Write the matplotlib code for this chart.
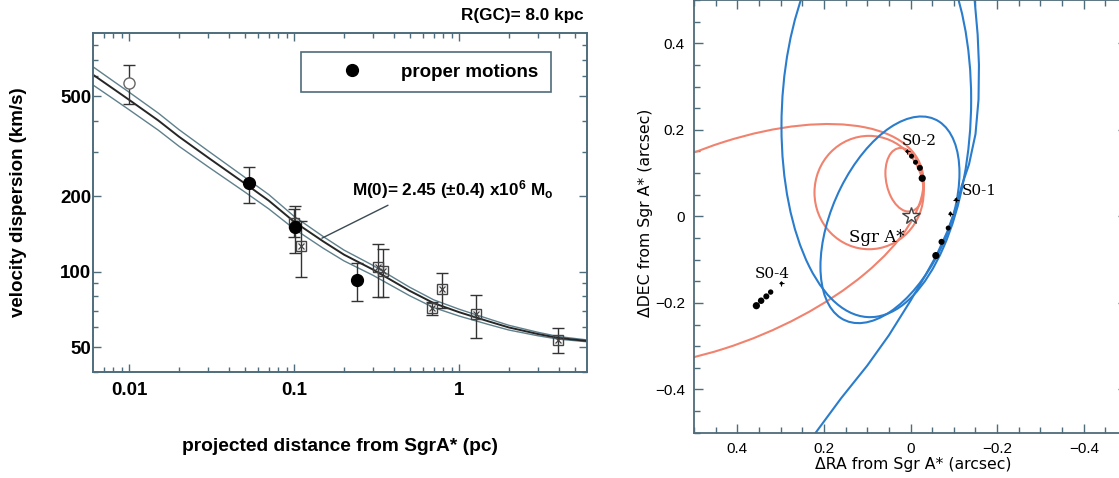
import matplotlib
matplotlib.use("Agg")
import matplotlib.pyplot as plt
import numpy as np
from matplotlib.patches import Circle
from matplotlib.transforms import Affine2D
from matplotlib.ticker import FixedLocator, LogLocator, NullFormatter, MultipleLocator, FuncFormatter

plt.rcParams['font.family'] = ['Liberation Sans', 'DejaVu Sans']
plt.rcParams['mathtext.fontset'] = 'custom'
plt.rcParams['mathtext.rm'] = 'Liberation Sans:bold'
plt.rcParams['mathtext.it'] = 'Liberation Sans:bold'
plt.rcParams['mathtext.bf'] = 'Liberation Sans:bold'

# ---- left panel: velocity dispersion vs projected distance ----
pm_r = [0.0531, 0.1014, 0.239]          # proper motions
pm_v = [225, 151, 92.7]
pm_err = [37, 32, 16]

rv_r = [0.0099]                          # open circle
rv_v = [564]
rv_err = [100]

box_r = [0.100, 0.1094, 0.322, 0.345, 0.680, 0.791, 1.257, 3.98]
box_v = [157, 127, 104, 101, 71.5, 85, 67.6, 53.5]
box_err = [20, 32, 25, 22, 4, 13.5, 13, 6]

fit_r = [0.006, 0.008, 0.01, 0.015, 0.02, 0.03, 0.05, 0.07, 0.1, 0.15,
         0.2, 0.3, 0.5, 0.7, 1.0, 1.5, 2.0, 3.0, 4.0, 6.0]
fit_mid = [610, 535, 483, 400, 345, 285, 225, 192, 158, 132,
           117, 102, 84, 75, 69, 63.5, 60, 56.5, 54.5, 53]
fit_hi = [656, 574, 518, 428, 368, 303, 238, 203, 166, 138,
          122, 106, 86.8, 77.3, 70.9, 65.0, 61.2, 57.4, 55.2, 53.5]
fit_lo = [555, 488, 441, 366, 316, 262, 208, 178, 148, 124,
          110.5, 96.8, 80.3, 72, 66.6, 61.7, 58.6, 55.6, 53.9, 52.6]

# ---- right panel: positions (arcsec) ----
s02_ra = [0.0077, -0.0023, -0.0115, -0.0216, -0.027]
s02_dec = [0.150, 0.139, 0.125, 0.112, 0.088]
s02_size = [5, 13, 13, 19, 27]
s01_ra = [-0.105, -0.092, -0.087, -0.0716, -0.0585]
s01_dec = [0.0386, 0.006, -0.027, -0.059, -0.0907]
s01_size = [5, 6, 13, 19, 27]
s04_ra = [0.356, 0.345, 0.333, 0.323, 0.298]
s04_dec = [-0.2065, -0.195, -0.185, -0.175, -0.1547]
s04_size = [27, 22, 19, 15, 5]
faint_ra = [0.0077, -0.105, -0.092, 0.298]
faint_dec = [0.150, 0.0386, 0.006, -0.1547]

# closed orbits: centre ra, centre dec, half width in ra, chord slope, half height
s02_orbits = [(0.0135, 0.0845, 0.0445, 0.35, 0.0718),
              (0.0958, 0.055, 0.126, 0.0, 0.131),
              (0.431, -0.067, 0.461, -0.318, 0.239)]
s01_orbits = [(0.079, 0.239, 0.219, -0.141, 0.471),
              (0.0475, -0.008, 0.1605, -0.673, 0.213)]
# open S0-1 trajectory
s01_open_ra = [0.219, 0.160, 0.100, 0.050, 0.000, -0.035, -0.060, -0.085,
               -0.105, -0.118, -0.135, -0.150, -0.157, -0.158, -0.155, -0.148]
s01_open_dec = [-0.50, -0.42, -0.345, -0.275, -0.195, -0.135, -0.090, -0.035,
                0.020, 0.070, 0.120, 0.190, 0.270, 0.350, 0.420, 0.500]

spine_c = '#4e6c7a'
red = '#f0826e'
blue = '#2a7ccc'

fig = plt.figure(figsize=(11.19, 4.78), dpi=100)

# ================= left panel =================
ax1 = fig.add_axes([0.0834, 0.2224, 0.4414, 0.7079])
ax1.set_xscale('log')
ax1.set_yscale('log')

ax1.plot(fit_r, fit_hi, color='#5f808c', lw=1.0, zorder=2)
ax1.plot(fit_r, fit_lo, color='#5f808c', lw=1.0, zorder=2)
ax1.plot(fit_r, fit_mid, color='#262626', lw=1.4, zorder=2)

ax1.errorbar(box_r, box_v, yerr=box_err, fmt='s', mfc='none', mec='#444', ms=7.5,
             mew=1.0, ecolor='#333', elinewidth=1.0, capsize=4.3, capthick=1.0, zorder=3)
ax1.plot(box_r, box_v, 'x', color='#444', ms=4.5, mew=0.9, zorder=3)
ax1.errorbar(rv_r, rv_v, yerr=rv_err, fmt='o', mfc='white', mec='#666', ms=8,
             mew=1.0, ecolor='#333', elinewidth=1.0, capsize=4.3, capthick=1.0, zorder=3)
ax1.errorbar(pm_r, pm_v, yerr=pm_err, fmt='none', ecolor='#333', elinewidth=1.0,
             capsize=4.3, capthick=1.0, zorder=3)
ax1.plot(pm_r, pm_v, 'o', color='black', ms=8.5, label='proper motions', zorder=4)

ax1.set_xlim(0.00605, 5.97)
ax1.set_ylim(40, 890)

ax1.xaxis.set_major_locator(FixedLocator([0.01, 0.1, 1]))
ax1.xaxis.set_major_formatter(FuncFormatter(lambda v, p: f'{v:g}'))
ax1.xaxis.set_minor_locator(LogLocator(base=10, subs=np.arange(2, 10)))
ax1.xaxis.set_minor_formatter(NullFormatter())
ax1.yaxis.set_major_locator(FixedLocator([50, 100, 200, 500]))
ax1.yaxis.set_major_formatter(FuncFormatter(lambda v, p: f'{v:g}'))
ax1.yaxis.set_minor_locator(LogLocator(base=10, subs=np.arange(2, 10)))
ax1.yaxis.set_minor_formatter(NullFormatter())

ax1.tick_params(which='both', direction='in', top=True, right=True, color=spine_c, width=1.0,
                labelsize=13.5)
ax1.tick_params(which='major', length=6)
ax1.tick_params(which='minor', length=3.5)
ax1.tick_params(axis='x', which='major', pad=7.5)
ax1.tick_params(axis='y', which='major', pad=1.5)
plt.setp(ax1.get_xticklabels() + ax1.get_yticklabels(), fontweight='bold')
for sp in ax1.spines.values():
    sp.set_color(spine_c)
    sp.set_linewidth(1.4)

ax1.set_xlabel('projected distance from SgrA* (pc)', fontsize=13.8, fontweight='bold')
ax1.xaxis.set_label_coords(0.5, -0.22)
ax1.xaxis.label.set_va('center')
ax1.set_ylabel('velocity dispersion (km/s)', fontsize=13.5, fontweight='bold')
ax1.yaxis.set_label_coords(-0.151, 0.5)
ax1.yaxis.label.set_va('center')

leg = ax1.legend(loc='lower left', bbox_to_anchor=(0.42, 0.826, 0.506, 0.125), mode='expand',
                 borderaxespad=0, handlelength=4.22, handletextpad=0.48, borderpad=0.62,
                 fancybox=False, framealpha=1, edgecolor=spine_c,
                 prop=dict(weight='bold', size=13.5))
leg.get_frame().set_linewidth(1.2)

ax1.annotate(r'M(0)= 2.45 ($\pm$0.4) x10$^{6}$ M$_{o}$', xy=(0.147, 136),
             xytext=(0.223, 212), textcoords='data', fontsize=12.3, fontweight='bold',
             ha='left', va='center',
             arrowprops=dict(arrowstyle='-', color='#3a4a52', lw=1.0, relpos=(0.22, 0.0),
                             shrinkA=2, shrinkB=0))

fig.text(0.522, 0.967, 'R(GC)= 8.0 kpc', fontsize=12.3, fontweight='bold', ha='right', va='center')

# ================= right panel =================
ax2 = fig.add_axes([0.6202, 0.0948, 0.3870, 0.9052])


def draw_orbit(ax, cx, cy, half_w, slope, half_h, color):
    trf = Affine2D(np.array([[half_w, 0.0, cx], [slope * half_w, half_h, cy], [0.0, 0.0, 1.0]]))
    ax.add_patch(Circle((0, 0), 1, transform=trf + ax.transData, fill=False,
                        ec=color, lw=1.5, zorder=2))


for o in s02_orbits:
    draw_orbit(ax2, *o, red)
for o in s01_orbits:
    draw_orbit(ax2, *o, blue)
ax2.plot(s01_open_ra, s01_open_dec, color=blue, lw=1.5, zorder=2)

ax2.errorbar(faint_ra, faint_dec, xerr=0.006, yerr=0.006, fmt='none', ecolor='black',
             elinewidth=0.8, zorder=3)
ax2.scatter(s02_ra, s02_dec, s=s02_size, color='black', zorder=4, linewidths=0)
ax2.scatter(s01_ra, s01_dec, s=s01_size, color='black', zorder=4, linewidths=0)
ax2.scatter(s04_ra, s04_dec, s=s04_size, color='black', zorder=4, linewidths=0)
ax2.plot([0], [0], marker='*', ms=13, mfc='white', mec='#444', mew=1.0, zorder=5)

ax2.text(-0.019, 0.173, 'S0-2', fontsize=11, family='DejaVu Serif', ha='center', va='center')
ax2.text(-0.158, 0.058, 'S0-1', fontsize=11, family='DejaVu Serif', ha='center', va='center')
ax2.text(0.319, -0.1325, 'S0-4', fontsize=11, family='DejaVu Serif', ha='center', va='center')
ax2.text(0.077, -0.048, 'Sgr A*', fontsize=12, family='DejaVu Serif', ha='center', va='center')

ax2.set_xlim(0.5, -0.5)
ax2.set_ylim(-0.5, 0.5)
ax2.xaxis.set_major_locator(MultipleLocator(0.2))
ax2.xaxis.set_minor_locator(MultipleLocator(0.05))
ax2.yaxis.set_major_locator(MultipleLocator(0.2))
ax2.yaxis.set_minor_locator(MultipleLocator(0.05))
fmt = FuncFormatter(lambda v, p: '0' if abs(v) < 1e-9 else f'{v:.1f}'.replace('-', '\u2212'))
ax2.xaxis.set_major_formatter(fmt)
ax2.yaxis.set_major_formatter(fmt)
ax2.tick_params(which='both', direction='in', top=True, right=True, color=spine_c, width=1.0,
                labelsize=11, pad=6.5)
ax2.tick_params(which='major', length=6.5)
ax2.tick_params(which='minor', length=4.3)
for sp in ax2.spines.values():
    sp.set_color(spine_c)
    sp.set_linewidth(1.3)

ax2.set_xlabel('\u0394RA from Sgr A* (arcsec)', fontsize=11.3, family='DejaVu Sans')
ax2.xaxis.set_label_coords(0.506, -0.0746)
ax2.xaxis.label.set_va('center')
ax2.set_ylabel('\u0394DEC from Sgr A* (arcsec)', fontsize=11.3, family='DejaVu Sans')
ax2.yaxis.set_label_coords(-0.113, 0.508)
ax2.yaxis.label.set_va('center')

fig.savefig('out.png', dpi=100)
